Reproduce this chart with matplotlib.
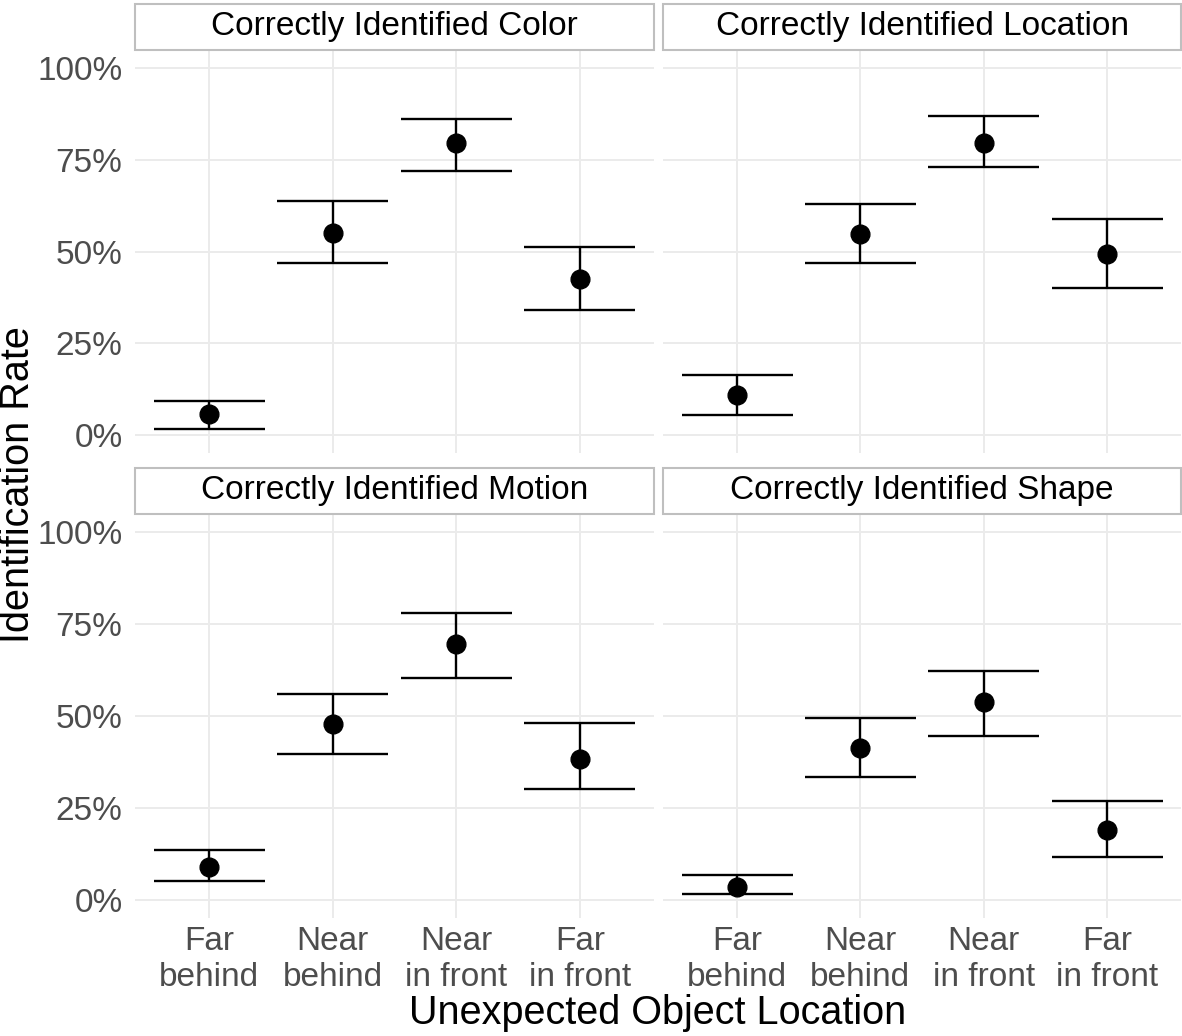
import matplotlib
matplotlib.use("Agg")
import matplotlib.pyplot as plt
from matplotlib.ticker import PercentFormatter
from matplotlib.patches import Rectangle

plt.rcParams['font.family'] = ['Liberation Sans', 'DejaVu Sans']

categories = ["Far\nbehind", "Near\nbehind", "Near\nin front", "Far\nin front"]
panels = ["Correctly Identified Color", "Correctly Identified Location",
          "Correctly Identified Motion", "Correctly Identified Shape"]

# estimate, lower, upper (proportions) per panel
color_est = [0.057, 0.550, 0.796, 0.425]
color_lo = [0.016, 0.469, 0.719, 0.341]
color_hi = [0.093, 0.638, 0.861, 0.512]

location_est = [0.109, 0.548, 0.796, 0.493]
location_lo = [0.054, 0.469, 0.730, 0.401]
location_hi = [0.163, 0.629, 0.869, 0.589]

motion_est = [0.090, 0.478, 0.696, 0.383]
motion_lo = [0.052, 0.397, 0.603, 0.302]
motion_hi = [0.136, 0.560, 0.780, 0.481]

shape_est = [0.035, 0.413, 0.538, 0.190]
shape_lo = [0.014, 0.334, 0.446, 0.117]
shape_hi = [0.068, 0.495, 0.622, 0.269]

data = [(color_est, color_lo, color_hi), (location_est, location_lo, location_hi),
        (motion_est, motion_lo, motion_hi), (shape_est, shape_lo, shape_hi)]

W, H = 1182, 1036
fig = plt.figure(figsize=(W / 100, H / 100), dpi=100)

# panel boxes in pixels: (left, top, right, bottom)
cols = [(135, 654), (663, 1181)]
rows = [(49.6, 453.4), (514, 918)]
strip_h = 46

grid_c = "#EBEBEB"
tick_c = "#4D4D4D"

for i, (title, (est, lo, hi)) in enumerate(zip(panels, data)):
    r, c = divmod(i, 2)
    x0, x1 = cols[c]
    y0, y1 = rows[r]
    ax = fig.add_axes([x0 / W, 1 - y1 / H, (x1 - x0) / W, (y1 - y0) / H])
    xs = list(range(1, len(categories) + 1))
    ax.set_xlim(0.4, 4.6)
    ax.set_ylim(-0.05, 1.05)
    ax.set_yticks([0, 0.25, 0.5, 0.75, 1.0])
    ax.yaxis.set_major_formatter(PercentFormatter(1.0, decimals=0))
    ax.set_xticks(xs)
    ax.grid(True, color=grid_c, linewidth=1.4)
    ax.set_axisbelow(True)
    for s in ax.spines.values():
        s.set_visible(False)
    ax.tick_params(length=0, labelsize=24, colors=tick_c)
    ax.tick_params(axis='y', pad=9)
    ax.tick_params(axis='x', pad=6)
    if c == 1:
        ax.set_yticklabels([])
    if r == 1:
        ax.set_xticklabels(categories, linespacing=1.18)
    else:
        ax.set_xticklabels([])

    ax.vlines(xs, lo, hi, color="black", linewidth=1.7)
    ax.hlines(lo, [x - 0.45 for x in xs], [x + 0.45 for x in xs], color="black", linewidth=1.7)
    ax.hlines(hi, [x - 0.45 for x in xs], [x + 0.45 for x in xs], color="black", linewidth=1.7)
    ax.plot(xs, est, 'o', color="black", markersize=13.5)

    # facet strip
    fig.patches.append(Rectangle((x0 / W, 1 - y0 / H), (x1 - x0) / W, strip_h / H,
                                 transform=fig.transFigure, facecolor="white",
                                 edgecolor="#BFBFBF", linewidth=1.5))
    fig.text((x0 + x1) / 2 / W, 1 - (y0 - strip_h / 2) / H, title,
             ha="center", va="center", fontsize=24, color="black")

fig.text(18 / W, 1 - 485 / H, "Identification Rate", rotation=90,
         ha="center", va="center", fontsize=28.5)
fig.text(658 / W, 1 - 1013 / H, "Unexpected Object Location",
         ha="center", va="center", fontsize=28.5)

fig.savefig("out.png", dpi=100)
